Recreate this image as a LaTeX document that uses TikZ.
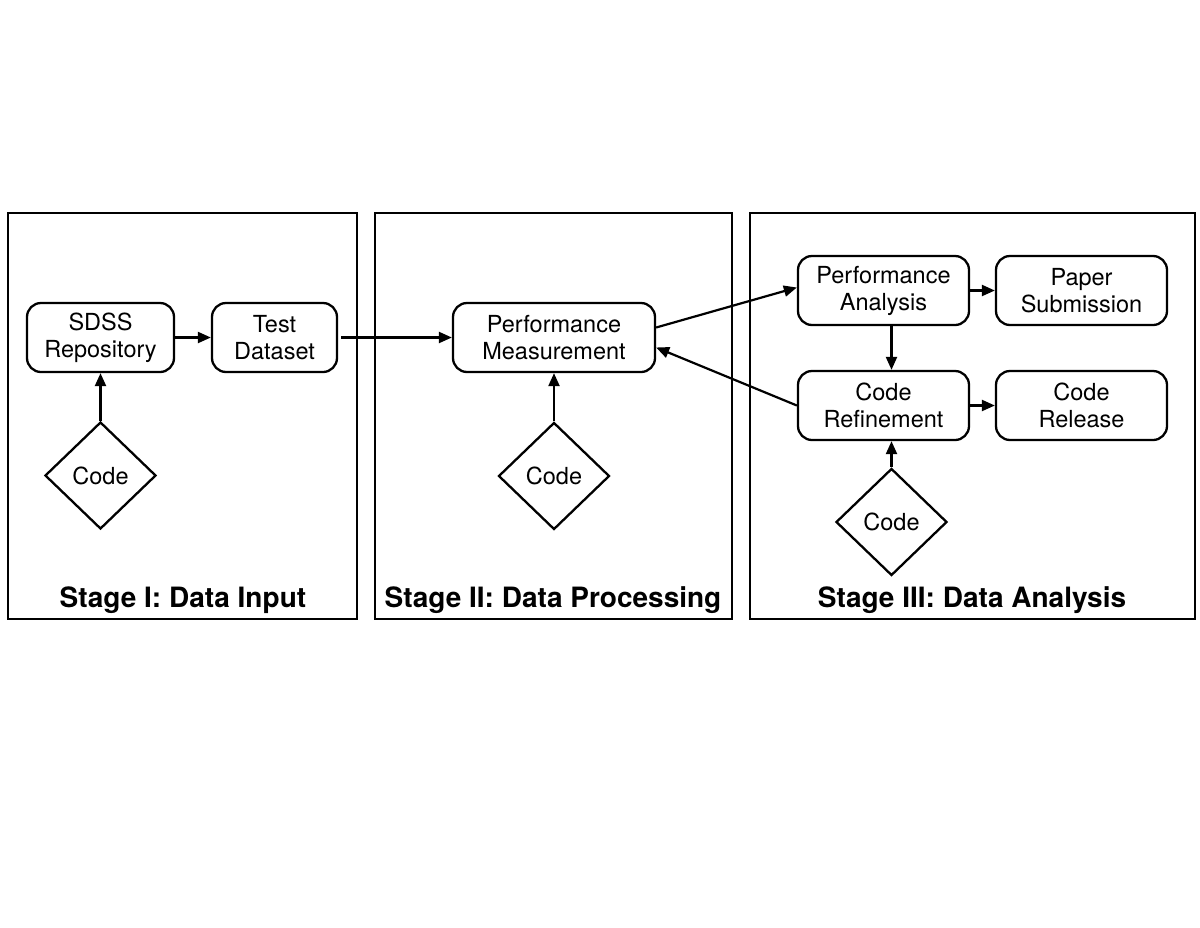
\documentclass[tikz,border=0pt]{standalone}
\usepackage{fontspec}
\setmainfont{TeX Gyre Heros}
\usetikzlibrary{shapes.geometric,arrows.meta}
\begin{document}
\begin{tikzpicture}[x=1pt,y=-1pt,
  stagebox/.style={draw,line width=2.4pt,inner sep=0pt,minimum height=406pt},
  proc/.style={draw,line width=2.3pt,rounded corners=14pt,align=center,inner sep=0pt,minimum height=69pt,font=\fontsize{23.5}{27}\selectfont},
  codeshape/.style={draw,diamond,line width=2.3pt,minimum width=111pt,minimum height=107pt,inner sep=0pt,font=\fontsize{23.5}{27}\selectfont},
  stagelabel/.style={font=\fontsize{28}{32}\selectfont\bfseries},
  conn/.style={line width=2.2pt,-{Triangle[length=13pt,width=11pt]}}
]
\useasboundingbox (0,0) rectangle (1200,927);
% stage frames
\node[stagebox,minimum width=349pt] (s1) at (182.5,416) {};
\node[stagebox,minimum width=357pt] (s2) at (553.5,416) {};
\node[stagebox,minimum width=445pt] (s3) at (972.5,416) {};
\node[stagelabel] (l1) at (183,600.5) {Stage I: Data Input};
\node[stagelabel] (l2) at (553,600.5) {Stage II: Data Processing};
\node[stagelabel] (l3) at (972,600.5) {Stage III: Data Analysis};
% stage I
\node[proc,minimum width=147pt] (sdss) at (100.5,337.5) {SDSS\\Repository};
\node[proc,minimum width=125pt] (test) at (274.5,337.5) {Test\\Dataset};
\node[codeshape] (c1) at (100.5,475.5) {Code};
% stage II
\node[proc,minimum width=202pt] (pm) at (554,337.5) {Performance\\Measurement};
\node[codeshape] (c2) at (554,476) {Code};
% stage III
\node[proc,minimum width=171pt] (pa) at (883.5,290.5) {Performance\\Analysis};
\node[proc,minimum width=171pt] (ps) at (1081.5,290.5) {Paper\\Submission};
\node[proc,minimum width=171pt] (cr) at (883.5,405.5) {Code\\Refinement};
\node[proc,minimum width=171pt] (rel) at (1081.5,405.5) {Code\\Release};
\node[codeshape] (c3) at (891.5,522) {Code};
% connectors
\draw[conn] (c1.north) -- (sdss.south);
\draw[conn] (sdss.east) -- (test.east -| test.west);
\draw[conn] ([xshift=3pt]test.east) -- (pm.west);
\draw[conn] (c2.north) -- (pm.south);
\draw[conn] ([yshift=10pt]pm.east) -- ([yshift=3pt]pa.west);
\draw[conn] (cr.west) -- ([yshift=-10pt]pm.east);
\draw[conn] (pa.east) -- (ps.west);
\draw[conn] (pa.south -| c3.north) -- (cr.north -| c3.north);
\draw[conn] (cr.east) -- (rel.west);
\draw[conn] (c3.north) -- (cr.south -| c3.north);
\end{tikzpicture}
\end{document}
